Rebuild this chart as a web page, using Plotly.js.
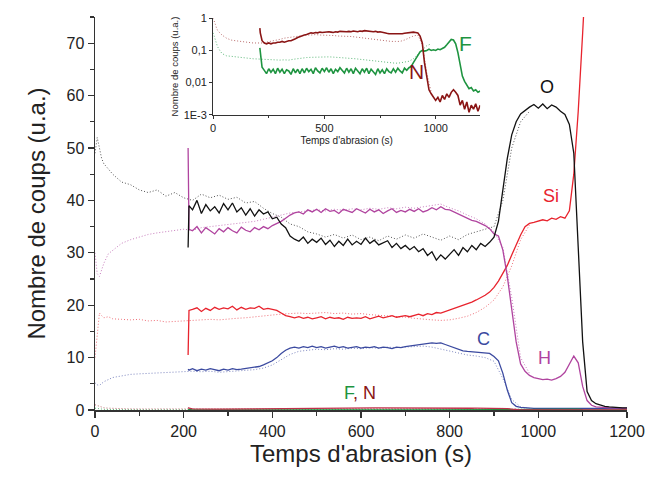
<!DOCTYPE html>
<html>
<head>
<meta charset="utf-8">
<script src="https://cdn.plot.ly/plotly-3.0.1.min.js"></script>
<style>html,body{margin:0;padding:0;background:#fff;}#chart{width:649px;height:479px;}</style>
</head>
<body>
<div id="chart"></div>
<script>
// Time axis for the solid (second) profiles, s
const tSolid = [210,212,220,230,240,250,260,270,280,290,
300,310,320,330,340,350,360,370,380,390,
400,410,420,430,440,450,460,470,480,490,
500,510,520,530,540,550,560,570,580,590,
600,610,620,630,640,650,660,670,680,690,
700,710,720,730,740,750,760,770,780,790,
800,810,820,830,840,850,860,870,880,890,
900,910,920,930,940,950,960,970,980,990,
1000,1010,1020,1030,1040,1050,1060,1070,1080,1090,
1100,1110,1120,1130,1140,1150,1160,1170,1180,1190,
1200];

// Time axis for the dotted (first) profiles, s
const tDotted = [0,5,10,15,20,30,40,60,80,100,120,140,160,180,200,220,240,260,280,300,
320,340,360,380,400,420,440,460,480,500,520,540,560,580,600,620,640,660,680,700,
720,740,760,780,800,820,840,860,880,900,920,940,960,980];

// O
const O_solid = [31,39,38.2,40,37.5,39.2,38,38.8,37.6,39.4,
38.2,39.5,37.8,38.6,37.2,38.4,37,38.2,37.4,37.8,
36.5,36.8,35.5,34.8,33.2,32.6,32.2,33,31.8,32.6,
32,32.8,31.6,32.4,31.2,32.2,31.4,32.6,31.5,32.2,
31.6,32.8,31.8,32.4,31.5,31.9,32.3,31,31.8,30.8,
31.4,30.6,31.2,30.2,30.8,29.5,30.2,28.6,29.6,28.8,
29.8,30.6,29.5,31,30.2,31.4,30.6,31.8,31.2,32,
33,36,42,48,52.5,55,56.5,57.2,57.8,58.3,
57.6,58.4,57.5,58.2,57.8,57,56.4,54.5,49,31,
13,3.5,1.8,1.2,0.9,0.7,0.6,0.5,0.5,0.4,
0.4];
const O_dotted = [49,52,50,48,47,46,45,43.5,43,42,41.5,42,40.8,41.5,40.5,40,41.2,40.5,41,40.2,
40.6,39.5,39.8,38.5,37.5,36.8,35.5,35,34,33.6,33,33.5,32.8,33.4,32.5,33,32.3,33.2,32.6,33.4,
32.8,33.6,33,32.4,33.2,32.5,33.5,34,34.5,35,40,50,55,57];

// H
const H_solid = [50,34.5,34.2,35,33.8,34.8,34.2,33.6,34.6,34,
34.8,34.2,33.8,34.9,34.3,34,34.8,34.4,35,34.6,
35.2,35.6,36,36.6,37.2,37.6,37.8,37.4,38.2,37.8,
38.3,37.7,38.4,37.9,38.1,37.5,38.3,38,37.7,38.4,
38,37.6,38.3,37.8,38.2,37.5,38,38.4,37.7,38.1,
37.8,38.3,37.9,38.4,37.8,38.1,38.6,38.2,38.8,38.3,
38.2,37.8,37.4,36.9,36.6,36.2,36,35.6,35.2,34.6,
33.6,33.2,30.5,25.5,19,13,8.8,7.4,6.6,6.2,
6,5.8,5.9,5.7,6,6.4,7.2,8.8,10.3,9,
4.5,1.8,0.9,0.6,0.5,0.5,0.4,0.4,0.4,0.3,
0.3];
const H_dotted = [30,26,25.5,27,28,29.8,30.5,31.8,32.5,33,33.5,33.8,34,34.2,34.5,34.3,34.8,35,35.2,35.5,
35.6,35.8,36,36.4,36.8,37.2,37.6,37.8,38,38.2,38,38.3,38.1,38.4,38.2,38.5,38.3,38.6,38.4,38.7,
38.5,38.8,39,39.3,38.6,38,37.2,36.5,35.5,34,31,21.5,10,7];

// Si
const Si_solid = [10.5,19,19.2,19.5,18.8,19.4,19,19.6,19.2,19.5,
19.3,19.8,19.1,19.6,19.2,19.5,19.4,19.8,19.2,19.4,
19.2,19,18.5,18,17.8,17.6,17.8,17.5,17.7,17.4,
17.6,17.8,17.4,17.7,17.5,17.6,17.3,17.7,17.5,17.6,
17.5,17.8,17.4,17.7,17.9,17.6,17.8,18,17.7,17.9,
18,17.8,18.1,18.3,18,18.4,18.2,18.6,18.5,18.8,
19,19.3,19.6,19.9,20.2,20.6,21,21.4,21.9,22.5,
23.4,24.6,26,27.6,29.6,31.6,33.4,35,35.6,35.8,
36,36.3,36.1,36.6,36.4,36.9,36.6,38,45,57,
72,88,null,null,null,null,null,null,null,null,
null];
const Si_dotted = [10,15,18.5,18,17.6,17.8,17.4,17.3,17.2,17.3,17,17.1,16.8,16.9,17,17,17.1,17.3,17.2,17.4,
17.5,17.6,17.8,17.9,18.1,18.3,18.4,18.5,18.4,18.5,18.6,18.4,18.5,18.3,18.4,18.2,18.1,18,17.9,17.7,
17.5,17.3,17.2,17.1,17.2,17.5,17.9,18.6,19.6,21,23.5,27.5,32.5,35.3];

// C
const C_solid = [7.8,7.6,7.9,7.5,7.8,7.6,7.9,7.7,7.5,7.8,
7.6,7.9,7.7,7.8,7.9,8,8.1,8.3,8.6,9,
9.4,10,10.8,11.4,11.8,12,11.8,12.1,11.9,12.2,
11.9,12.1,11.8,12,12.2,11.9,12.1,11.8,12,12.1,
11.8,12,11.9,12.1,11.8,12,11.9,11.7,12,11.9,
12.1,12.2,12.3,12.4,12.5,12.6,12.8,12.7,12.8,12.5,
12.2,11.8,11.5,11.3,11.2,11.1,11,11,10.9,10.8,
10.2,9.4,7,3.8,1.4,0.7,0.5,0.4,0.3,0.3,
0.3,0.3,0.3,0.3,0.3,0.3,0.3,0.3,0.3,0.3,
0.3,0.3,0.3,0.3,0.3,0.3,0.3,0.3,0.3,0.3,
0.3];
const C_dotted = [5.2,4.8,4.7,5,5.4,5.8,6.2,6.5,6.8,6.9,7,7.1,7.2,7.3,7.4,7.4,7.3,7.4,7.2,7.3,
7.4,7.5,7.7,8,8.6,9.6,10.6,11.2,11.4,11.6,11.5,11.7,11.6,11.8,11.7,11.9,11.8,12,11.9,12,
12.1,12.2,12,11.6,11.2,10.8,10.5,10.3,10,9.3,6,2,0.6,0.3];

// F
const F_solid = [0.12,0.08,0.03,0.024,0.019,0.027,0.021,0.026,0.019,0.028,
0.021,0.026,0.019,0.025,0.023,0.018,0.027,0.02,0.026,0.019,
0.027,0.02,0.028,0.022,0.026,0.019,0.029,0.023,0.02,0.028,
0.022,0.029,0.021,0.027,0.019,0.026,0.022,0.029,0.023,0.02,
0.028,0.021,0.027,0.019,0.028,0.023,0.019,0.027,0.021,0.028,
0.019,0.026,0.022,0.018,0.027,0.02,0.025,0.019,0.027,0.022,
0.02,0.027,0.021,0.028,0.023,0.02,0.028,0.024,0.029,0.032,
0.042,0.055,0.075,0.09,0.1,0.095,0.1,0.11,0.1,0.105,
0.1,0.11,0.105,0.115,0.125,0.15,0.19,0.22,0.21,0.16,
0.085,0.04,0.016,0.011,0.008,0.0065,0.007,0.0055,0.006,0.005,
0.0055];
const F_dotted = [0.35,0.27,0.2,0.15,0.13,0.1,0.08,0.068,0.065,0.062,0.06,0.058,0.057,0.055,0.054,0.053,0.052,0.051,0.05,0.05,
0.051,0.05,0.053,0.056,0.058,0.06,0.061,0.062,0.063,0.062,0.063,0.062,0.061,0.06,0.058,0.057,0.055,0.053,0.051,0.049,
0.047,0.045,0.043,0.041,0.04,0.04,0.041,0.043,0.046,0.055,0.075,0.11,0.14,0.16];

// N
const N_solid = [0.49,0.35,0.2,0.17,0.16,0.17,0.16,0.17,0.17,0.18,
0.18,0.19,0.18,0.19,0.2,0.2,0.21,0.23,0.25,0.27,
0.28,0.3,0.31,0.33,0.35,0.34,0.36,0.35,0.37,0.36,
0.37,0.36,0.38,0.37,0.36,0.38,0.37,0.39,0.38,0.37,
0.38,0.39,0.38,0.4,0.39,0.38,0.4,0.39,0.41,0.4,
0.39,0.4,0.38,0.39,0.37,0.38,0.36,0.35,0.34,0.33,
0.33,0.32,0.32,0.33,0.32,0.33,0.34,0.35,0.36,0.37,
0.37,0.36,0.35,0.28,0.17,0.04,0.014,0.006,0.0045,0.0035,
0.0028,0.0035,0.0025,0.004,0.003,0.0045,0.0035,0.005,0.006,0.005,
0.004,0.002,0.0028,0.0015,0.0025,0.0012,0.002,0.0015,0.0022,0.0013,
0.002];
const N_dotted = [1.0,0.85,0.65,0.5,0.42,0.35,0.3,0.24,0.21,0.2,0.19,0.18,0.17,0.17,0.17,0.17,0.18,0.19,0.2,0.22,
0.24,0.25,0.27,0.28,0.29,0.3,0.3,0.31,0.3,0.3,0.29,0.29,0.28,0.28,0.27,0.27,0.26,0.25,0.24,0.23,
0.22,0.21,0.2,0.2,0.19,0.19,0.19,0.21,0.24,0.28,0.3,0.15,0.02,0.005];

// tick labels of the inset log axis
const insetTickVals = [0.001, 0.01, 0.1, 1];
const insetTickText = ['1E-3', '0,01', '0,1', '1'];

const col = {
  O: '#111111', Od: '#555555',
  Si: '#e8232d', Sid: '#ef6f78',
  H: '#b0449f', Hd: '#c87dbd',
  C: '#3b4aa0', Cd: '#7d86c0',
  F: '#1e9440', Fd: '#5db779',
  N: '#8a1515', Nd: '#b86b6b'
};
const DOT = '1px,2px';

function tr(x, y, color, dotted, xa, ya, w) {
  return {x: x, y: y, type: 'scatter', mode: 'lines', xaxis: xa, yaxis: ya,
    hoverinfo: 'skip', connectgaps: false,
    line: {color: color, width: w || (dotted ? 1 : 1.3), dash: dotted ? DOT : 'solid'}};
}

const data = [
  tr(tDotted, O_dotted, col.Od, true, 'x', 'y'),
  tr(tDotted, H_dotted, col.Hd, true, 'x', 'y'),
  tr(tDotted, Si_dotted, col.Sid, true, 'x', 'y'),
  tr(tDotted, C_dotted, col.Cd, true, 'x', 'y'),
  tr(tDotted, F_dotted, col.Fd, true, 'x', 'y'),
  tr(tDotted, N_dotted, col.Nd, true, 'x', 'y'),
  tr(tSolid, C_solid, col.C, false, 'x', 'y'),
  tr(tSolid, Si_solid, col.Si, false, 'x', 'y'),
  tr(tSolid, H_solid, col.H, false, 'x', 'y'),
  tr(tSolid, O_solid, col.O, false, 'x', 'y'),
  tr(tSolid, F_solid, col.F, false, 'x', 'y'),
  tr(tSolid, N_solid, '#c0304a', false, 'x', 'y'),
  // inset
  tr(tDotted, N_dotted, col.Nd, true, 'x2', 'y2'),
  tr(tDotted, F_dotted, col.Fd, true, 'x2', 'y2'),
  tr(tSolid, F_solid, col.F, false, 'x2', 'y2', 1.6),
  tr(tSolid, N_solid, col.N, false, 'x2', 'y2', 1.6)
];

const axisCol = '#333333';
const FONT = 'Liberation Sans, Arial, Helvetica, sans-serif';

const layout = {
  width: 649, height: 479,
  margin: {l: 95, r: 22, t: 17, b: 69},
  paper_bgcolor: '#ffffff', plot_bgcolor: '#ffffff',
  showlegend: false,
  font: {family: FONT, color: '#222222'},
  xaxis: {
    domain: [0, 1], range: [0, 1200], tick0: 0, dtick: 200,
    ticks: 'outside', ticklen: 6, tickwidth: 1.3, tickcolor: axisCol,
    showline: true, linecolor: axisCol, linewidth: 1.5,
    showgrid: false, zeroline: false,
    tickfont: {size: 16, color: '#222'},
    minor: {dtick: 100, ticks: 'outside', ticklen: 4, tickwidth: 1.2, tickcolor: axisCol, showgrid: false},
    title: {text: "Temps d'abrasion (s)", font: {size: 24, color: '#222'}, standoff: 6}
  },
  yaxis: {
    domain: [0, 1], range: [0, 75], tick0: 0, dtick: 10,
    ticks: 'outside', ticklen: 6, tickwidth: 1.3, tickcolor: axisCol,
    showline: true, linecolor: axisCol, linewidth: 1.5,
    showgrid: false, zeroline: false,
    tickfont: {size: 16, color: '#222'},
    minor: {dtick: 5, ticks: 'outside', ticklen: 4, tickwidth: 1.2, tickcolor: axisCol, showgrid: false},
    title: {text: 'Nombre de coups (u.a.)', font: {size: 24, color: '#222'}, standoff: 14}
  },
  xaxis2: {
    domain: [0.222, 0.724], anchor: 'y2', range: [0, 1200],
    tickvals: [0, 500, 1000], ticks: 'outside', ticklen: 3, tickwidth: 1, tickcolor: axisCol,
    showline: true, linecolor: axisCol, linewidth: 1,
    showgrid: false, zeroline: false,
    tickfont: {size: 11, color: '#222'},
    minor: {tickvals: [250, 750], ticks: 'outside', ticklen: 2, tickcolor: axisCol},
    title: {text: "Temps d'abrasion (s)", font: {size: 10, color: '#222'}, standoff: 3}
  },
  yaxis2: {
    domain: [0.751, 0.997], anchor: 'x2', type: 'log', range: [-3, 0],
    tickvals: insetTickVals, ticktext: insetTickText,
    ticks: 'outside', ticklen: 3, tickwidth: 1, tickcolor: axisCol,
    showline: true, linecolor: axisCol, linewidth: 1,
    showgrid: false, zeroline: false,
    tickfont: {size: 11, color: '#222'},
    title: {text: 'Nombre de coups (u.a.)', font: {size: 9.5, color: '#222'}, standoff: 3}
  },
  shapes: [
    {type: 'rect', xref: 'x2 domain', yref: 'y2 domain', x0: 0, x1: 1, y0: 0, y1: 1,
     fillcolor: '#ffffff', line: {width: 0}, layer: 'below'}
  ],
  annotations: [
    {text: 'O', x: 1020, y: 61.6, xref: 'x', yref: 'y', showarrow: false, font: {size: 18, color: '#111'}},
    {text: 'Si', x: 1029, y: 40.8, xref: 'x', yref: 'y', showarrow: false, font: {size: 18, color: col.Si}},
    {text: 'H', x: 1013, y: 9.9, xref: 'x', yref: 'y', showarrow: false, font: {size: 18, color: col.H}},
    {text: 'C', x: 877, y: 13.5, xref: 'x', yref: 'y', showarrow: false, font: {size: 18, color: col.C}},
    {text: '<span style="color:' + col.F + '">F</span><span style="color:' + col.N + '">, N</span>',
     x: 598, y: 3.2, xref: 'x', yref: 'y', showarrow: false, font: {size: 18}},
    {text: 'F', x: 1133, y: -0.8, xref: 'x2', yref: 'y2', showarrow: false, font: {size: 21, color: col.F}},
    {text: 'N', x: 912, y: -1.67, xref: 'x2', yref: 'y2', showarrow: false, font: {size: 21, color: col.N}}
  ]
};

Plotly.newPlot('chart', data, layout, {displayModeBar: false, staticPlot: true});
</script>
</body>
</html>
